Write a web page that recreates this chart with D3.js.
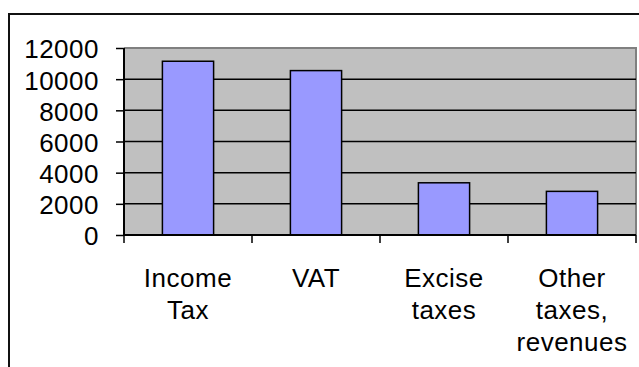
<!DOCTYPE html>
<html lang="en">
  <head>
    <meta charset="UTF-8" />
    <title>Tax revenues</title>
    <style>
      body { margin: 0; background: #fff; }
      text { font-family: "Liberation Sans", Arial, sans-serif; fill: #000; letter-spacing: 0.5px; }
    </style>
  </head>
  <body>
    <svg id="svg" width="639" height="367"></svg>

    <script src="https://cdn.jsdelivr.net/npm/d3@7"></script>
    <script>
      const categories = ["Income Tax", "VAT", "Excise taxes", "Other taxes, revenues"];
      const labelLines = [["Income", "Tax"], ["VAT"], ["Excise", "taxes"], ["Other", "taxes,", "revenues"]];
      const values = [11150, 10550, 3350, 2800];
      const yTicks = [0, 2000, 4000, 6000, 8000, 10000, 12000];

      const svg = d3.select("#svg");
      const plotLeft = 124, plotRight = 636, plotTop = 48, plotBottom = 235;

      // outer chart border (only left and top edges visible)
      svg.append("path")
        .attr("d", "M9,367 V14 H639")
        .attr("fill", "none")
        .attr("stroke", "#111")
        .attr("stroke-width", 2);

      const xScale = d3.scaleBand()
        .domain(categories)
        .range([plotLeft, plotRight])
        .paddingInner(0.6)
        .paddingOuter(0.3);
      const yScale = d3.scaleLinear().domain([0, 12000]).range([plotBottom, plotTop]);

      // plot area
      svg.append("rect")
        .attr("x", plotLeft).attr("y", plotTop)
        .attr("width", plotRight - plotLeft).attr("height", plotBottom - plotTop)
        .attr("fill", "#c0c0c0");
      svg.append("path")
        .attr("d", `M${plotLeft},${plotTop} H${plotRight} V${plotBottom}`)
        .attr("fill", "none")
        .attr("stroke", "#808080")
        .attr("stroke-width", 2);

      // gridlines
      svg.selectAll(".grid")
        .data(yTicks.filter((d) => d > 0 && d < 12000))
        .enter()
        .append("line")
        .attr("x1", plotLeft).attr("x2", plotRight)
        .attr("y1", (d) => yScale(d)).attr("y2", (d) => yScale(d))
        .attr("stroke", "#000")
        .attr("stroke-width", 1.5);

      // bars
      svg.selectAll(".bar")
        .data(values)
        .enter()
        .append("rect")
        .attr("x", (d, i) => xScale(categories[i]))
        .attr("y", (d) => yScale(d))
        .attr("width", xScale.bandwidth())
        .attr("height", (d) => plotBottom - yScale(d))
        .attr("fill", "#9999ff")
        .attr("stroke", "#000")
        .attr("stroke-width", 1.5);

      // y axis
      const yAxis = svg.append("g")
        .attr("transform", `translate(${plotLeft},0)`)
        .call(d3.axisLeft(yScale).tickValues(yTicks).tickFormat(d3.format("d")).tickSize(8).tickPadding(17));
      yAxis.select(".domain").attr("stroke", "#000").attr("stroke-width", 2)
        .attr("d", `M0,${plotTop}V${plotBottom}`);
      yAxis.selectAll(".tick line").attr("stroke", "#000").attr("stroke-width", 1.5);
      yAxis.selectAll(".tick text")
        .style("font-family", '"Liberation Sans", Arial, sans-serif')
        .style("font-size", "26px")
        .attr("dy", "0.38em");

      // x axis
      svg.append("line")
        .attr("x1", plotLeft).attr("x2", plotRight)
        .attr("y1", plotBottom).attr("y2", plotBottom)
        .attr("stroke", "#000").attr("stroke-width", 2);
      const step = xScale.step();
      const bounds = categories.map((c) => xScale(c) - step * 0.3).concat([plotRight]);
      svg.selectAll(".xtick")
        .data(bounds)
        .enter()
        .append("line")
        .attr("x1", (d) => d).attr("x2", (d) => d)
        .attr("y1", plotBottom).attr("y2", plotBottom + 8)
        .attr("stroke", "#000").attr("stroke-width", 1.5);

      const labels = svg.selectAll(".xlabel")
        .data(categories)
        .enter()
        .append("text")
        .attr("text-anchor", "middle")
        .style("font-size", "26px")
        .attr("x", (d) => xScale(d) + xScale.bandwidth() / 2)
        .attr("y", 287);
      labels.selectAll("tspan")
        .data((d, i) => labelLines[i])
        .enter()
        .append("tspan")
        .attr("x", function () { return this.parentNode.getAttribute("x"); })
        .attr("y", (d, i) => 287 + i * 32)
        .text((d) => d);
    </script>
  </body>
</html>
